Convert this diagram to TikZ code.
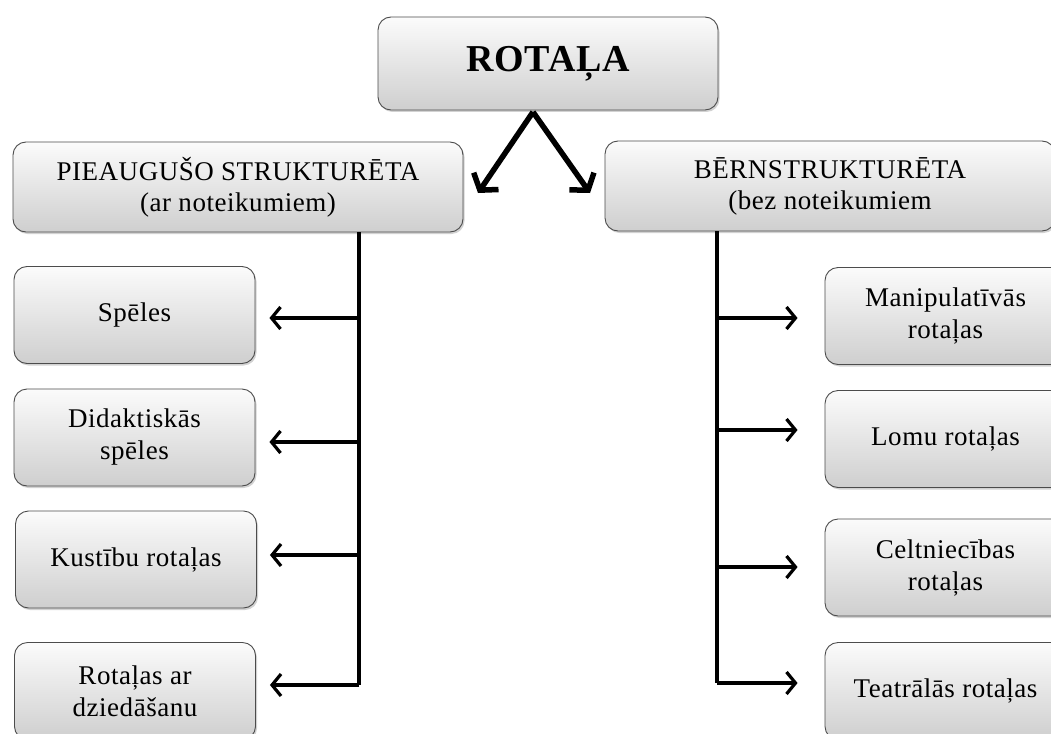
\documentclass[tikz,border=0pt]{standalone}
\usepackage{fontspec}
\setmainfont[LetterSpace=2]{Liberation Serif}
\usetikzlibrary{arrows.meta,shadows}
\begin{document}
\begin{tikzpicture}[x=1pt,y=-1pt,
  box/.style={draw=black!70, line width=0.9pt, rounded corners=13pt,
    top color=gray!3, bottom color=gray!38,
    drop shadow={shadow xshift=1.5pt,shadow yshift=-2pt,opacity=0.35},
    align=center, inner sep=0pt, font=\fontsize{27}{32}\selectfont},
  small/.style={box, minimum width=241pt, minimum height=97pt},
  trunk/.style={line width=3.2pt},
  arr/.style={line width=3.2pt, -{Straight Barb[length=9pt,width=22pt]}},
  bigarr/.style={line width=5.5pt, -{Straight Barb[length=11pt,width=30pt]}}]
\clip (0,0) rectangle (1051,733);
\fill[white] (0,0) rectangle (1051,733);
% top
\node[box, minimum width=340pt, minimum height=93pt, font=\fontsize{38}{42}\selectfont\bfseries] (top) at (548,63.5) {ROTAĻA};
% middle
\node[box, minimum width=450pt, minimum height=90pt, font=\fontsize{27}{31}\selectfont] (lm) at (238,187) {PIEAUGUŠO STRUKTURĒTA\\(ar noteikumiem)};
\node[box, minimum width=450pt, minimum height=90pt, font=\fontsize{27}{31}\selectfont] (rm) at (830,186) {BĒRNSTRUKTURĒTA\\(bez noteikumiem};
% left boxes
\node[small] (l1) at (134.5,315) {Spēles};
\node[small] (l2) at (134.5,437.5) {Didaktiskās\\spēles};
\node[small] (l3) at (136,559.5) {Kustību rotaļas};
\node[small] (l4) at (135,691) {Rotaļas ar\\dziedāšanu};
% right boxes
\node[small] (r1) at (945.5,316) {Manipulatīvās\\rotaļas};
\node[small] (r2) at (945.5,439) {Lomu rotaļas};
\node[small] (r3) at (945.5,567.5) {Celtniecības\\rotaļas};
\node[small] (r4) at (945.5,691) {Teatrālās rotaļas};
% top arrows
\coordinate (apex) at (533,112);
\coordinate (aL) at (478,193);
\coordinate (aR) at (590,193);
\draw[bigarr] (apex) -- (aL);
\draw[bigarr] (apex) -- (aR);
% left trunk
\coordinate (lt) at (359,232);
\coordinate (lb) at (359,685);
\draw[trunk] (lt) -- (lb);
\draw[arr, shorten >=14pt] (359,318) -- (l1.east |- 0,318);
\draw[arr, shorten >=14pt] (359,442) -- (l2.east |- 0,442);
\draw[arr, shorten >=13pt] (359,555) -- (l3.east |- 0,555);
\draw[arr, shorten >=14pt] (lb) -- (l4.east |- lb);
% right trunk
\coordinate (rt) at (717,231);
\coordinate (rb) at (717,683);
\draw[trunk] (rt) -- (rb);
\draw[arr, shorten >=27pt] (717,318) -- (r1.west |- 0,318);
\draw[arr, shorten >=27pt] (717,430) -- (r2.west |- 0,430);
\draw[arr, shorten >=27pt] (717,567) -- (r3.west |- 0,567);
\draw[arr, shorten >=27pt] (rb) -- (r4.west |- rb);
\end{tikzpicture}
\end{document}
